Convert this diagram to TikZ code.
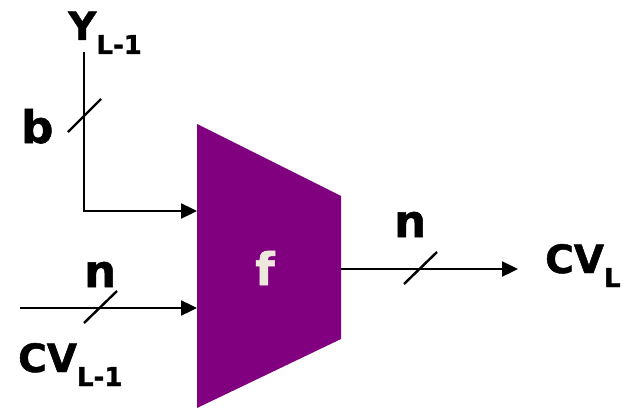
\documentclass[tikz,border=0pt]{standalone}
\usepackage{fontspec}
\setmainfont{DejaVu Sans}[BoldFeatures={FakeBold=1.2}]
\usetikzlibrary{arrows.meta}
\definecolor{mux}{HTML}{800080}
\definecolor{cream}{HTML}{EEE8DC}
\newcommand{\biglab}{\bfseries\fontsize{39}{39}\selectfont}
\newcommand{\wlab}{\bfseries\fontsize{45}{45}\selectfont}
\newcommand{\sublab}[1]{\raisebox{-14pt}{\fontsize{26}{26}\selectfont #1}}
\tikzset{
    sig/.style={line width=2.4pt, -{Triangle[length=16pt,width=15pt]}},
    tick/.style={line width=2.4pt},
    lab/.style={inner sep=0pt, anchor=base west}
}
\begin{document}
\begin{tikzpicture}[x=1pt,y=1pt]
                \useasboundingbox (0,0) rectangle (623,408);
                \fill[mux] (197,284) -- (341,212) -- (341,69) -- (197,0) -- cycle;
                \node[inner sep=0pt, anchor=base, text=cream] (f) at (265,123) {\wlab f};
                \coordinate (ytop) at (84,356);
                \coordinate (yin) at (197,197);
                \coordinate (cvstart) at (20,100);
                \coordinate (cvin) at (197,100);
                \coordinate (cvout) at (341,139);
                \coordinate (cvend) at (518,139);
                \draw[sig] (ytop) |- (yin);
                \draw[sig] (cvstart) -- (cvin);
                \draw[sig] (cvout) -- (cvend);
                \draw[tick] (68,276) -- (101,309);
                \draw[tick] (84,85) -- (117,117);
                \draw[tick] (404,124) -- (437,156);
                \node[lab] (ylab) at (68,368) {\biglab Y\sublab{L-1}};
                \node[lab] (b) at (21,265) {\wlab b};
                \node[lab] (nin) at (84,121) {\wlab n};
                \node[lab] (cvlab) at (18,36) {\biglab CV\sublab{L-1}};
                \node[lab] (nout) at (394,171) {\wlab n};
                \node[lab] (cvl) at (545,135) {\biglab CV\sublab{L}};
            \end{tikzpicture}
\end{document}
